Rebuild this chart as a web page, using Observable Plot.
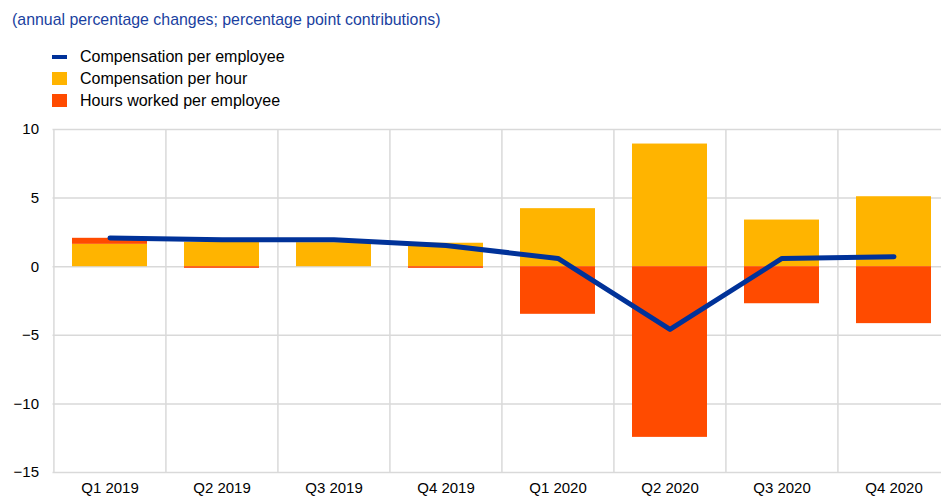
<!DOCTYPE html>
<html>
<head>
<meta charset="utf-8">
<script src="https://cdn.jsdelivr.net/npm/d3@7"></script>
<script src="https://cdn.jsdelivr.net/npm/@observablehq/plot@0.6"></script>
<style>
  html, body { margin: 0; padding: 0; background: #fff; overflow: hidden; }
  body { width: 941px; height: 497px; position: relative; font-family: "Liberation Sans", Arial, sans-serif; }
  #title { position: absolute; left: 12px; top: 11px; font-size: 15.9px; color: #1a3fa0; white-space: nowrap; }
  #legend { position: absolute; left: 52px; top: 46px; font-size: 16px; color: #000; }
  .item { position: absolute; left: 0; height: 22px; white-space: nowrap; }
  .sw { position: absolute; left: 0; width: 15px; }
  .lab { position: absolute; left: 28px; top: 0; line-height: 22px; }
  #chart { position: absolute; left: 0; top: 115px; }
</style>
</head>
<body>
<div id="title">(annual percentage changes; percentage point contributions)</div>
<div id="legend"></div>
<div id="chart"></div>
<script>
const quarters = ["Q1 2019", "Q2 2019", "Q3 2019", "Q4 2019", "Q1 2020", "Q2 2020", "Q3 2020", "Q4 2020"];
const compPerHour = [1.63, 1.78, 1.75, 1.71, 4.23, 8.94, 3.40, 5.10];
const hoursPerEmployee = [0.44, -0.12, 0.0, -0.12, -3.47, -12.44, -2.70, -4.15];
const compPerEmployee = [2.10, 1.97, 1.97, 1.55, 0.60, -4.57, 0.60, 0.72];
const seriesNames = ["Compensation per employee", "Compensation per hour", "Hours worked per employee"];
const colors = { blue: "#003299", yellow: "#FFB400", red: "#FF4B00", grid: "#d9d9d9" };
const yTicks = [-15, -10, -5, 0, 5, 10];

// legend
const legend = document.getElementById("legend");
const legendItems = [
  { name: seriesNames[0], color: colors.blue, type: "line" },
  { name: seriesNames[1], color: colors.yellow, type: "box" },
  { name: seriesNames[2], color: colors.red, type: "box" }
];
legendItems.forEach((it, i) => {
  const d = document.createElement("div");
  d.className = "item";
  d.style.top = (i * 22) + "px";
  const sw = document.createElement("div");
  sw.className = "sw";
  sw.style.background = it.color;
  if (it.type === "line") { sw.style.top = "9px"; sw.style.height = "4px"; }
  else { sw.style.top = "4px"; sw.style.height = "13px"; }
  const lab = document.createElement("div");
  lab.className = "lab";
  lab.textContent = it.name;
  d.appendChild(sw); d.appendChild(lab);
  legend.appendChild(d);
});

const barData = [];
quarters.forEach((q, i) => {
  barData.push({ q, series: seriesNames[1], value: compPerHour[i] });
  barData.push({ q, series: seriesNames[2], value: hoursPerEmployee[i] });
});
const lineData = quarters.map((q, i) => ({ q, value: compPerEmployee[i] }));

const W = 941, H = 382, mL = 52.5, mR = -9;
const step = (W - mL - mR) / quarters.length;

const plot = Plot.plot({
  width: W,
  height: H,
  marginTop: 14,
  marginBottom: 25,
  marginLeft: mL,
  marginRight: mR,
  style: { fontFamily: "'Liberation Sans', Arial, sans-serif", fontSize: "15px", color: "#000", background: "transparent", overflow: "visible" },
  x: { domain: quarters, paddingInner: 1/3, paddingOuter: 1/6, label: null },
  y: { domain: [-15, 10], label: null },
  color: { domain: [seriesNames[1], seriesNames[2]], range: [colors.yellow, colors.red] },
  marks: [
    Plot.gridY(yTicks, { stroke: colors.grid, strokeOpacity: 1, strokeWidth: 1.5 }),
    Plot.ruleX(quarters, { x: d => d, dx: -step / 2, y1: -15, y2: 10, stroke: colors.grid, strokeOpacity: 1, strokeWidth: 1.5 }),
    Plot.barY(barData, Plot.stackY({ x: "q", y: "value", fill: "series", z: "series", order: seriesNames.slice(1) })),
    Plot.line(lineData, { x: "q", y: "value", stroke: colors.blue, strokeWidth: 5, strokeLinecap: "round", strokeLinejoin: "round" }),
    Plot.axisY(yTicks, { tickSize: 0, tickPadding: 14, fontSize: 15, label: null }),
    Plot.axisX({ tickSize: 0, tickPadding: 10, fontSize: 15, label: null })
  ]
});
document.getElementById("chart").appendChild(plot);
</script>
</body>
</html>
